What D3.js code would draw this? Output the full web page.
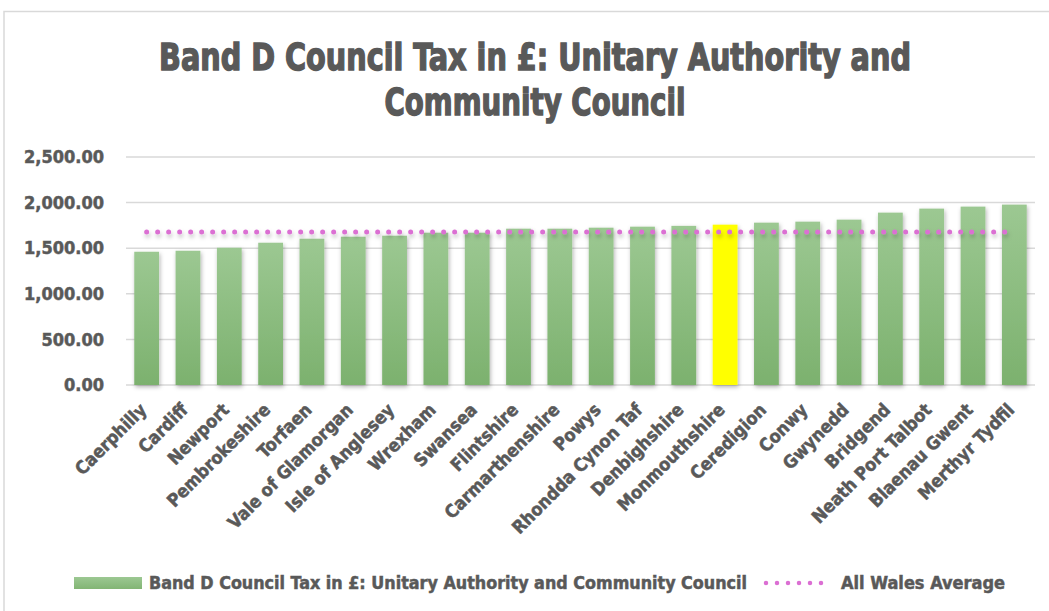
<!DOCTYPE html>
<html>
<head>
<meta charset="utf-8">
<script src="https://cdn.jsdelivr.net/npm/d3@7"></script>
<style>
    body { margin: 0; background: #fff; }
    text { font-family: "DejaVu Sans Condensed", "DejaVu Sans", sans-serif; font-weight: bold; fill: #595959; stroke: #595959; stroke-width: 0.5px; }
</style>
</head>
<body>
<div id="barChart"></div>
<script>
// data
var councils = ["Caerphilly", "Cardiff", "Newport", "Pembrokeshire", "Torfaen", "Vale of Glamorgan",
    "Isle of Anglesey", "Wrexham", "Swansea", "Flintshire", "Carmarthenshire", "Powys",
    "Rhondda Cynon Taf", "Denbighshire", "Monmouthshire", "Ceredigion", "Conwy", "Gwynedd",
    "Bridgend", "Neath Port Talbot", "Blaenau Gwent", "Merthyr Tydfil"];
var bandD = [1461, 1472, 1505, 1560, 1604, 1626, 1637, 1670, 1670, 1714, 1714, 1725,
    1736, 1745, 1758, 1780, 1791, 1813, 1890, 1934, 1956, 1978];
var walesAverage = 1678;
var highlighted = "Monmouthshire";
var yTicks = [0, 500, 1000, 1500, 2000, 2500];
var titleLines = ["Band D Council Tax in £: Unitary Authority and", "Community Council"];
var seriesNames = ["Band D Council Tax in £: Unitary Authority and Community Council", "All Wales Average"];

function BarChart() {
    var self = this;
    self.init();
}

BarChart.prototype.init = function () {
    var self = this;
    self.svgWidth = 1049;
    self.svgHeight = 611;
    self.plot = {left: 126, right: 1035, top: 157, bottom: 385};

    self.svg = d3.select("#barChart").append("svg")
        .attr("width", self.svgWidth)
        .attr("height", self.svgHeight);

    var defs = self.svg.append("defs");
    var grad = defs.append("linearGradient").attr("id", "greenGrad")
        .attr("x1", 0).attr("y1", 0).attr("x2", 0).attr("y2", 1);
    grad.append("stop").attr("offset", "0%").attr("stop-color", "#9cc892");
    grad.append("stop").attr("offset", "100%").attr("stop-color", "#7cb16e");

    var lgrad = defs.append("linearGradient").attr("id", "legendGrad")
        .attr("x1", 0).attr("y1", 0).attr("x2", 0).attr("y2", 1);
    lgrad.append("stop").attr("offset", "0%").attr("stop-color", "#9cc892");
    lgrad.append("stop").attr("offset", "100%").attr("stop-color", "#82b574");

    defs.append("filter").attr("id", "shadow")
        .attr("x", "-30%").attr("y", "-10%").attr("width", "160%").attr("height", "130%")
        .append("feDropShadow")
        .attr("dx", 1).attr("dy", 2).attr("stdDeviation", 2)
        .attr("flood-color", "#000").attr("flood-opacity", 0.3);

    // the dotted line has a zero-height box, so its shadow needs a fixed region
    defs.append("filter").attr("id", "lineShadow")
        .attr("filterUnits", "userSpaceOnUse")
        .attr("x", 0).attr("y", 0).attr("width", self.svgWidth).attr("height", self.svgHeight)
        .append("feDropShadow")
        .attr("dx", 1).attr("dy", 3).attr("stdDeviation", 2)
        .attr("flood-color", "#000").attr("flood-opacity", 0.25);

    // chart border
    self.svg.append("rect")
        .attr("x", 4).attr("y", 11.5)
        .attr("width", 1060).attr("height", 620)
        .attr("fill", "none").attr("stroke", "#d9d9d9").attr("stroke-width", 1.5);
};

// squeeze a text horizontally so it spans the given width (the original font is condensed)
function fitWidth(sel, width) {
    sel.each(function () {
        var t = d3.select(this);
        var natural = this.getComputedTextLength();
        var x = +t.attr("x") || 0;
        var s = width / natural;
        t.attr("transform", "translate(" + x + ",0) scale(" + s + ",1) translate(" + (-x) + ",0)");
    });
}

BarChart.prototype.update = function () {
    var self = this;
    var p = self.plot;

    var xScale = d3.scaleBand()
        .domain(councils)
        .range([p.left, p.right])
        .paddingInner(0.4)
        .paddingOuter(0.2);

    var yScale = d3.scaleLinear()
        .domain([0, 2500])
        .range([p.bottom, p.top]);

    // title
    var titles = self.svg.append("g").selectAll("text").data(titleLines).enter()
        .append("text")
        .attr("x", 535)
        .attr("y", function (d, i) { return 70 + i * 45; })
        .attr("text-anchor", "middle")
        .attr("font-size", 38)
        .style("stroke-width", "1.4px")
        .text(function (d) { return d; });
    fitWidth(titles.filter(function (d, i) { return i == 0; }), 752);
    fitWidth(titles.filter(function (d, i) { return i == 1; }), 301);

    // gridlines
    self.svg.append("g").selectAll("line").data(yTicks).enter()
        .append("line")
        .attr("x1", p.left).attr("x2", p.right)
        .attr("y1", function (d) { return yScale(d); })
        .attr("y2", function (d) { return yScale(d); })
        .attr("stroke", "#d9d9d9").attr("stroke-width", 1.5);

    var yAxis = d3.axisLeft(yScale)
        .tickValues(yTicks)
        .tickSize(0)
        .tickPadding(0)
        .tickFormat(d3.format(",.2f"));

    var yAxisGroup = self.svg.append("g")
        .attr("transform", "translate(104,0)")
        .call(yAxis);
    yAxisGroup.select(".domain").remove();
    yAxisGroup.selectAll("text")
        .attr("font-size", 18)
        .attr("font-family", null)
        .attr("fill", "#595959");

    // bars
    var rows = councils.map(function (c, i) { return {name: c, value: bandD[i]}; });
    self.svg.append("g").attr("id", "bars").selectAll("rect").data(rows).enter()
        .append("rect")
        .attr("x", function (d) { return xScale(d.name); })
        .attr("y", function (d) { return yScale(d.value); })
        .attr("width", xScale.bandwidth())
        .attr("height", function (d) { return yScale(0) - yScale(d.value); })
        .attr("fill", function (d) { return d.name == highlighted ? "#ffff00" : "url(#greenGrad)"; })
        .attr("filter", "url(#shadow)");

    // all wales average
    var first = councils[0], last = councils[councils.length - 1];
    self.svg.append("line")
        .attr("x1", xScale(first) + xScale.bandwidth() / 2)
        .attr("x2", xScale(last) + xScale.bandwidth() / 2)
        .attr("y1", yScale(walesAverage)).attr("y2", yScale(walesAverage))
        .attr("stroke", "#db6fd3").attr("stroke-width", 5)
        .attr("stroke-linecap", "round")
        .attr("stroke-dasharray", "0 11")
        .attr("filter", "url(#lineShadow)");

    // x labels
    var xAxis = d3.axisBottom(xScale).tickSize(0).tickPadding(0);
    var xAxisGroup = self.svg.append("g")
        .attr("transform", "translate(0," + p.bottom + ")")
        .call(xAxis);
    xAxisGroup.select(".domain").remove();
    xAxisGroup.selectAll("text")
        .attr("font-size", 18)
        .attr("font-family", null)
        .attr("fill", "#595959")
        .attr("text-anchor", "end")
        .attr("dy", null)
        .attr("y", 0)
        .attr("transform", "translate(1,26) rotate(-45)");

    // legend
    var legend = self.svg.append("g").attr("id", "legend");
    legend.append("rect")
        .attr("x", 74).attr("y", 577).attr("width", 68).attr("height", 12)
        .attr("fill", "url(#legendGrad)");
    legend.append("text")
        .attr("x", 149).attr("y", 589)
        .attr("font-size", 18)
        .attr("textLength", 598).attr("lengthAdjust", "spacingAndGlyphs")
        .text(seriesNames[0]);
    legend.append("line")
        .attr("x1", 766).attr("x2", 832).attr("y1", 583).attr("y2", 583)
        .attr("stroke", "#db6fd3").attr("stroke-width", 4.5)
        .attr("stroke-linecap", "round").attr("stroke-dasharray", "0 11");
    legend.append("text")
        .attr("x", 841).attr("y", 589)
        .attr("font-size", 18)
        .attr("textLength", 164).attr("lengthAdjust", "spacingAndGlyphs")
        .text(seriesNames[1]);
};

var chart = new BarChart();
chart.update();
</script>
</body>
</html>
